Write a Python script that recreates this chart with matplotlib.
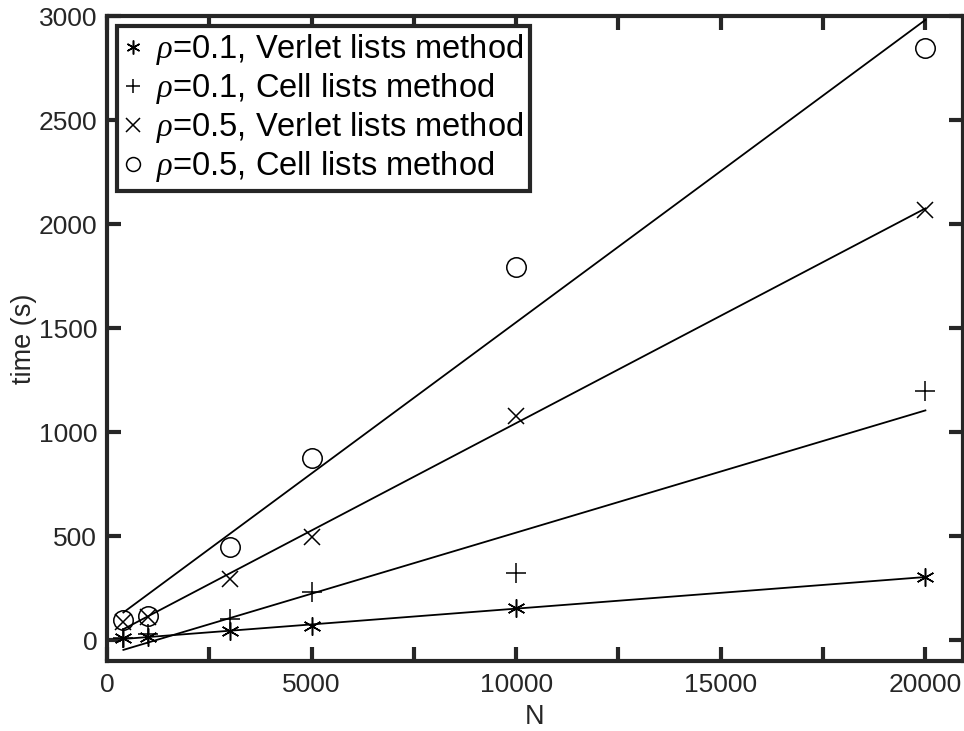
import numpy as np
import matplotlib
matplotlib.use('Agg')
import matplotlib.pyplot as plt
from matplotlib.ticker import MultipleLocator, FuncFormatter

plt.rcParams['font.family'] = ['Liberation Sans', 'DejaVu Sans']
plt.rcParams['mathtext.fontset'] = 'custom'
plt.rcParams['mathtext.it'] = 'Liberation Serif:italic'

N = [400, 1000, 3000, 5000, 10000, 20000]
verlet_01 = [10, 15, 43, 67, 155, 303]
cell_01 = [10, 30, 100, 230, 322, 1197]
verlet_05 = [87, 110, 293, 495, 1077, 2070]
cell_05 = [96, 115, 447, 875, 1795, 2845]

labels = [r'$\rho$=0.1, Verlet lists method',
          r'$\rho$=0.1, Cell lists method',
          r'$\rho$=0.5, Verlet lists method',
          r'$\rho$=0.5, Cell lists method']
series = [verlet_01, cell_01, verlet_05, cell_05]
markers = [(6, 2, 0), '+', 'x', 'o']
msizes = [13, 14, 11, 14]

dark = '#262626'

fig = plt.figure(figsize=(9.64, 7.31), dpi=100)
ax = fig.add_axes([0.111, 0.096, 0.888, 0.882])

x = np.array(N, dtype=float)
for vals, mk, ms, lab in zip(series, markers, msizes, labels):
    y = np.array(vals, dtype=float)
    ax.plot(x, y, linestyle='none', marker=mk, markersize=ms, color='black',
            markerfacecolor='none', markeredgewidth=1.1, label=lab)
    # linear fit line for each series
    p = np.polyfit(x, y, 1)
    ax.plot(x, np.polyval(p, x), color='black', linewidth=1.3, label='_nolegend_')

ax.set_xlim(0, 20920)
ax.set_ylim(-100, 3000)
ax.xaxis.set_major_locator(MultipleLocator(2500))
ax.xaxis.set_major_formatter(FuncFormatter(lambda v, pos: '%d' % v if v % 5000 == 0 else ''))
ax.yaxis.set_major_locator(MultipleLocator(500))

ax.tick_params(direction='in', length=10, width=3, color=dark, labelcolor=dark,
               labelsize=19, top=True, right=True)
ax.tick_params(axis='x', pad=9)
ax.tick_params(axis='y', pad=7)
for s in ax.spines.values():
    s.set_linewidth(3)
    s.set_color(dark)

ax.set_xlabel('N', fontsize=19.5, color=dark, labelpad=5)
ax.set_ylabel('time (s)', fontsize=19.5, color=dark, labelpad=1)

leg = ax.legend(loc='upper left', fontsize=23.5, frameon=True, fancybox=False,
                framealpha=1, handlelength=0.6, handletextpad=0.4, borderpad=0.2,
                labelspacing=0.12, borderaxespad=0.3, edgecolor=dark)
leg.get_frame().set_linewidth(3)
for h in leg.legend_handles:
    h.set_markersize(10)

fig.savefig('out.png', dpi=100)
